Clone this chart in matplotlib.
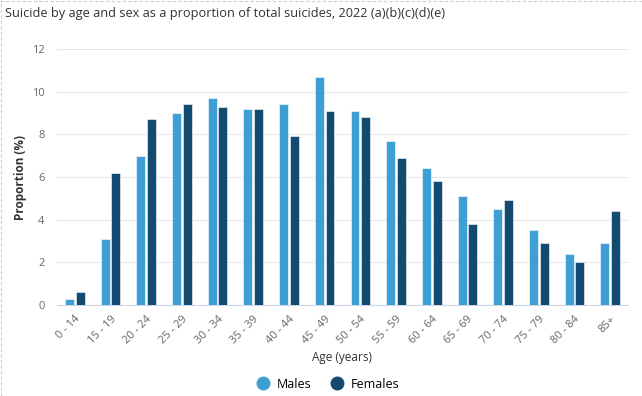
import matplotlib.pyplot as plt
import numpy as np
from matplotlib.lines import Line2D

plt.rcParams['font.family'] = ['Open Sans', 'DejaVu Sans']

ages = ["0 - 14", "15 - 19", "20 - 24", "25 - 29", "30 - 34", "35 - 39", "40 - 44", "45 - 49",
        "50 - 54", "55 - 59", "60 - 64", "65 - 69", "70 - 74", "75 - 79", "80 - 84", "85+"]
males = [0.3, 3.1, 7.0, 9.0, 9.7, 9.2, 9.4, 10.7, 9.1, 7.7, 6.4, 5.1, 4.5, 3.5, 2.4, 2.9]
females = [0.6, 6.2, 8.7, 9.4, 9.3, 9.2, 7.9, 9.1, 8.8, 6.9, 5.8, 3.8, 4.9, 2.9, 2.0, 4.4]

c_m = "#3d9fd4"
c_f = "#134a6f"

fig = plt.figure(figsize=(6.42, 3.96), dpi=100)
ax = fig.add_axes([57/642, 1-305/396, 571/642, 256/396])

x = np.arange(len(ages))
w = 0.25
ax.bar(x - w/2 - 0.025, males, w, color=c_m, edgecolor="white", linewidth=0.4, zorder=3)
ax.bar(x + w/2 + 0.025, females, w, color=c_f, edgecolor="white", linewidth=0.4, zorder=3)

ax.set_xlim(-0.5, len(ages) - 0.5)
ax.set_ylim(0, 12)
ax.set_yticks(range(0, 13, 2))
ax.grid(axis="y", color="#e6e6e6", linewidth=0.8, zorder=0)
ax.set_xticks(x)
ax.set_xticklabels(ages, rotation=45, ha="right", rotation_mode="anchor")
ax.tick_params(axis="both", colors="#666666", labelsize=8, length=0)
ax.tick_params(axis="x", pad=6)
ax.tick_params(axis="y", pad=9)
for s in ["top", "right", "left"]:
    ax.spines[s].set_visible(False)
ax.spines["bottom"].set_color("#ccd6eb")

ax.set_xlabel("Age (years)", fontsize=8.5, color="#333333", labelpad=4)
ax.set_ylabel("Proportion (%)", fontsize=8.5, color="#333333", fontweight="bold")
ax.yaxis.set_label_coords(-0.052, 0.5)

fig.text(5/642, 1-13/396, "Suicide by age and sex as a proportion of total suicides, 2022 (a)(b)(c)(d)(e)",
         fontsize=9.2, color="#333333", va="center", ha="left")

handles = [Line2D([], [], marker="o", linestyle="", markersize=9, color=c_m),
           Line2D([], [], marker="o", linestyle="", markersize=9, color=c_f)]
fig.legend(handles, ["Males", "Females"], loc="center", bbox_to_anchor=(325/642, 1-384/396),
           ncol=2, frameon=False, fontsize=9, handletextpad=0.1, columnspacing=1.0)

# dashed container border (top and left)
fig.add_artist(Line2D([0, 1], [0.998, 0.998], transform=fig.transFigure, color="#cccccc",
                      linestyle=(0, (3, 2)), linewidth=0.8))
fig.add_artist(Line2D([0.002, 0.002], [0, 1], transform=fig.transFigure, color="#cccccc",
                      linestyle=(0, (3, 2)), linewidth=0.8))

fig.savefig("out.png", dpi=100)
